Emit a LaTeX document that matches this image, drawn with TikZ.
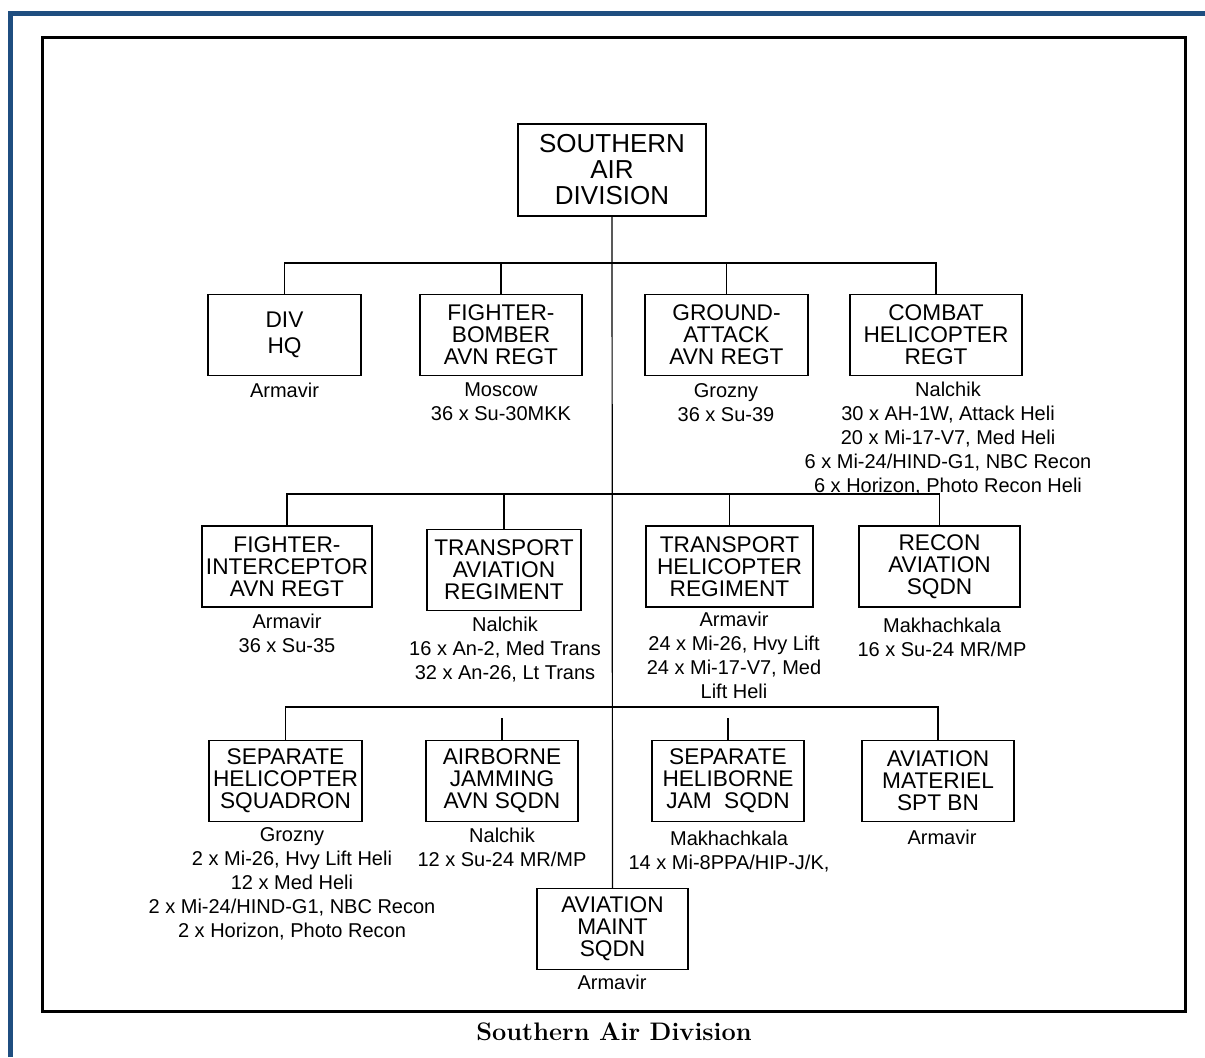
\documentclass[tikz,border=0pt]{standalone}
\usepackage{fontspec}
\setsansfont{Liberation Sans}
\usepackage{xcolor}
\definecolor{frameblue}{RGB}{31,78,128}
\tikzset{
  unitbox/.style={draw, line width=0.9pt, inner sep=0pt, align=center,
    minimum height=60.75pt, font=\sffamily\fontsize{17}{16.5}\selectfont},
  unitnote/.style={anchor=north, inner sep=0pt, align=center,
    font=\sffamily\fontsize{15}{18}\selectfont},
  orgline/.style={line width=0.9pt},
}

\begin{document}
\begin{tikzpicture}[x=0.75pt, y=-0.75pt]
  \useasboundingbox (0,0) rectangle (1205,1057);

  % Page frames
  \draw[frameblue, line width=3.75pt] (10.5,1057) -- (10.5,13.5) -- (1205,13.5);
  \draw[line width=2.25pt] (42.5,37.5) rectangle (1185.5,1011.5);

  % Division head
  \node[unitbox, minimum width=141pt, minimum height=69pt,
        font=\sffamily\fontsize{19.5}{19.5}\selectfont]
    (SAD) at (612,170) {SOUTHERN\\AIR\\DIVISION};

  % First row
  \node[unitbox, minimum width=114.75pt,
        font=\sffamily\fontsize{17}{19.5}\selectfont]
    (DivHQ) at (284.5,335) {DIV\\HQ};
  \node[unitbox, minimum width=121.5pt] (FtrBmr) at (501,335) {FIGHTER-\\BOMBER\\AVN REGT};
  \node[unitbox, minimum width=122.25pt] (GndAtk) at (726.5,335) {GROUND-\\ATTACK\\AVN REGT};
  \node[unitbox, minimum width=129pt] (CbtHeli) at (936,335) {COMBAT\\HELICOPTER\\REGT};

  % Second row
  \node[unitbox, minimum width=127.5pt] (FtrInt) at (287,566.5) {FIGHTER-\\INTERCEPTOR\\AVN REGT};
  \node[unitbox, minimum width=115.5pt] (TrnsAvn) at (504,570) {TRANSPORT\\AVIATION\\REGIMENT};
  \node[unitbox, minimum width=125.25pt] (TrnsHeli) at (729.5,566.5) {TRANSPORT\\HELICOPTER\\REGIMENT};
  \node[unitbox, minimum width=120.75pt] (RecAvn) at (939.5,566.5) {RECON\\AVIATION\\SQDN};

  % Third row
  \node[unitbox, minimum width=114.75pt] (SepHeli) at (285.5,781) {SEPARATE\\HELICOPTER\\SQUADRON};
  \node[unitbox, minimum width=114pt] (AbnJam) at (502,781) {AIRBORNE\\JAMMING\\AVN SQDN};
  \node[unitbox, minimum width=114pt] (SepJam) at (728,781) {SEPARATE\\HELIBORNE\\JAM\ \ SQDN};
  \node[unitbox, minimum width=114pt] (AvnMat) at (938,781) {AVIATION\\MATERIEL\\SPT BN};

  % Bottom
  \node[unitbox, minimum width=113.25pt] (AvnMaint) at (612.5,929) {AVIATION\\MAINT\\SQDN};

  % Stations and aircraft
  \node[unitnote] (noteDivHQ) at (284.5,383) {Armavir};
  \node[unitnote] (noteFtrBmr) at (501,382) {Moscow\\36 x Su-30MKK};
  \node[unitnote] (noteGndAtk) at (726,383) {Grozny\\36 x Su-39};
  \node[unitnote] (noteCbtHeli) at (948,382) {Nalchik\\30 x AH-1W, Attack Heli\\20 x Mi-17-V7, Med Heli\\6 x Mi-24/HIND-G1, NBC Recon\\6 x Horizon, Photo Recon Heli};
  \node[unitnote] (noteFtrInt) at (287,614) {Armavir\\36 x Su-35};
  \node[unitnote] (noteTrnsAvn) at (505,617) {Nalchik\\16 x An-2, Med Trans\\32 x An-26, Lt Trans};
  \node[unitnote] (noteTrnsHeli) at (734,612) {Armavir\\24 x Mi-26, Hvy Lift\\24 x Mi-17-V7, Med\\Lift Heli};
  \node[unitnote] (noteRecAvn) at (942,618) {Makhachkala\\16 x Su-24 MR/MP};
  \node[unitnote] (noteSepHeli) at (292,827) {Grozny\\2 x Mi-26, Hvy Lift Heli\\12 x Med Heli\\2 x Mi-24/HIND-G1, NBC Recon\\2 x Horizon, Photo Recon};
  \node[unitnote] (noteAbnJam) at (502,828) {Nalchik\\12 x Su-24 MR/MP};
  \node[unitnote] (noteSepJam) at (729,831) {Makhachkala\\14 x Mi-8PPA/HIP-J/K,};
  \node[unitnote] (noteAvnMat) at (942,830) {Armavir};
  \node[unitnote] (noteAvnMaint) at (612,975) {Armavir};

  % Connectors
  \coordinate (busA) at (612,263);
  \coordinate (busB) at (612,494);
  \coordinate (busC) at (612,707);
  \coordinate (stubC) at (612,718);
  \draw[orgline] (SAD.south) -- (AvnMaint.north);
  \draw[orgline] (DivHQ.north) |- (busA) -| (CbtHeli.north);
  \draw[orgline] (FtrBmr.north) -- (FtrBmr.north |- busA);
  \draw[orgline] (GndAtk.north) -- (GndAtk.north |- busA);
  \draw[orgline] (FtrInt.north) |- (busB) -| (RecAvn.north);
  \draw[orgline] (TrnsAvn.north) -- (TrnsAvn.north |- busB);
  \draw[orgline] (TrnsHeli.north) -- (TrnsHeli.north |- busB);
  \draw[orgline] (SepHeli.north) |- (busC) -| (AvnMat.north);
  \draw[orgline] (AbnJam.north) -- (AbnJam.north |- stubC);
  \draw[orgline] (SepJam.north) -- (SepJam.north |- stubC);

  % Caption
  \node[font=\bfseries\fontsize{19}{19}\selectfont] (caption) at (614,1032) {Southern Air Division};
\end{tikzpicture}
\end{document}
